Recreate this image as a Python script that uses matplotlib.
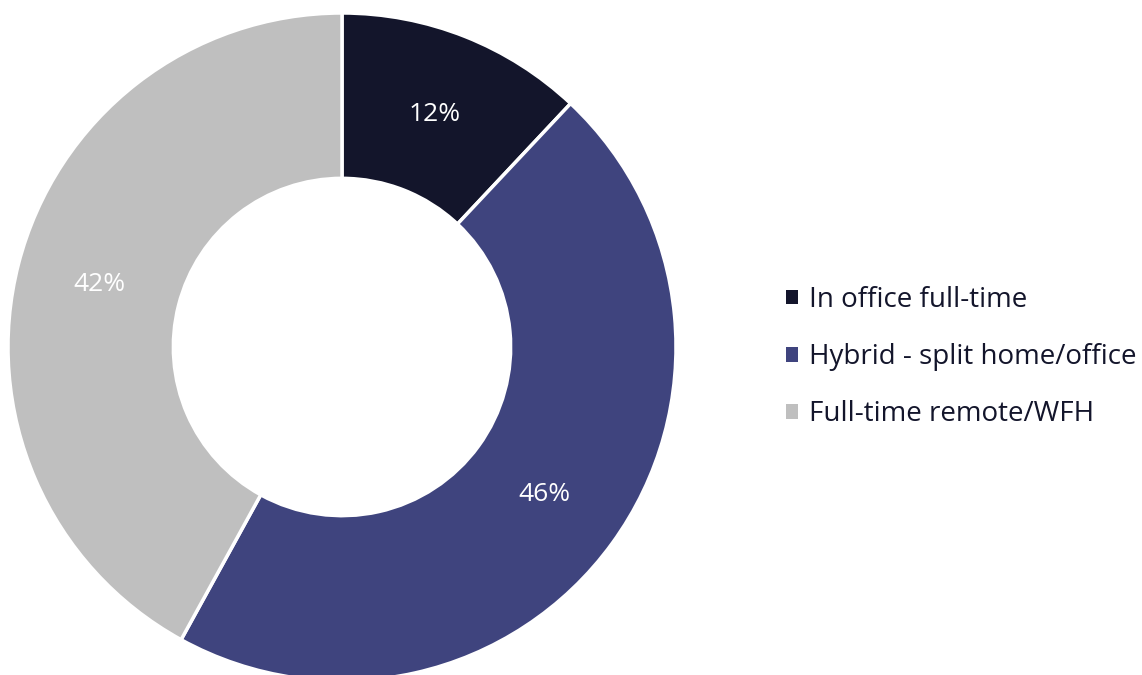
import matplotlib.pyplot as plt
from matplotlib.patches import Patch

labels = ["In office full-time", "Hybrid - split home/office", "Full-time remote/WFH"]
shares = [12, 46, 42]
colors = ["#13152b", "#3f447e", "#bfbfbf"]

plt.rcParams["font.family"] = ["Open Sans", "DejaVu Sans"]

fig = plt.figure(figsize=(11.42, 6.75), dpi=100)
# square box for the ring, 668 px across, centred at (342, 347) px
ax = fig.add_axes([8 / 1142, (328 - 334) / 675, 668 / 1142, 668 / 675])

wedges, texts, autotexts = ax.pie(
    shares,
    colors=colors,
    startangle=90,
    counterclock=False,
    radius=1,
    autopct="%d%%",
    pctdistance=0.75,
    wedgeprops=dict(width=0.495, edgecolor="white", linewidth=2.5),
    textprops=dict(color="white", fontsize=19),
)
ax.set_xlim(-1, 1)
ax.set_ylim(-1, 1)
ax.set_aspect("equal")

handles = [Patch(facecolor=c, edgecolor="none") for c in colors]
fig.legend(
    handles,
    labels,
    loc="center left",
    bbox_to_anchor=(0.666, 0.471),
    frameon=False,
    fontsize=20,
    handlelength=0.45,
    handleheight=0.45,
    handletextpad=0.4,
    labelspacing=1.05,
    labelcolor="#13152b",
)

fig.savefig("out.png")
